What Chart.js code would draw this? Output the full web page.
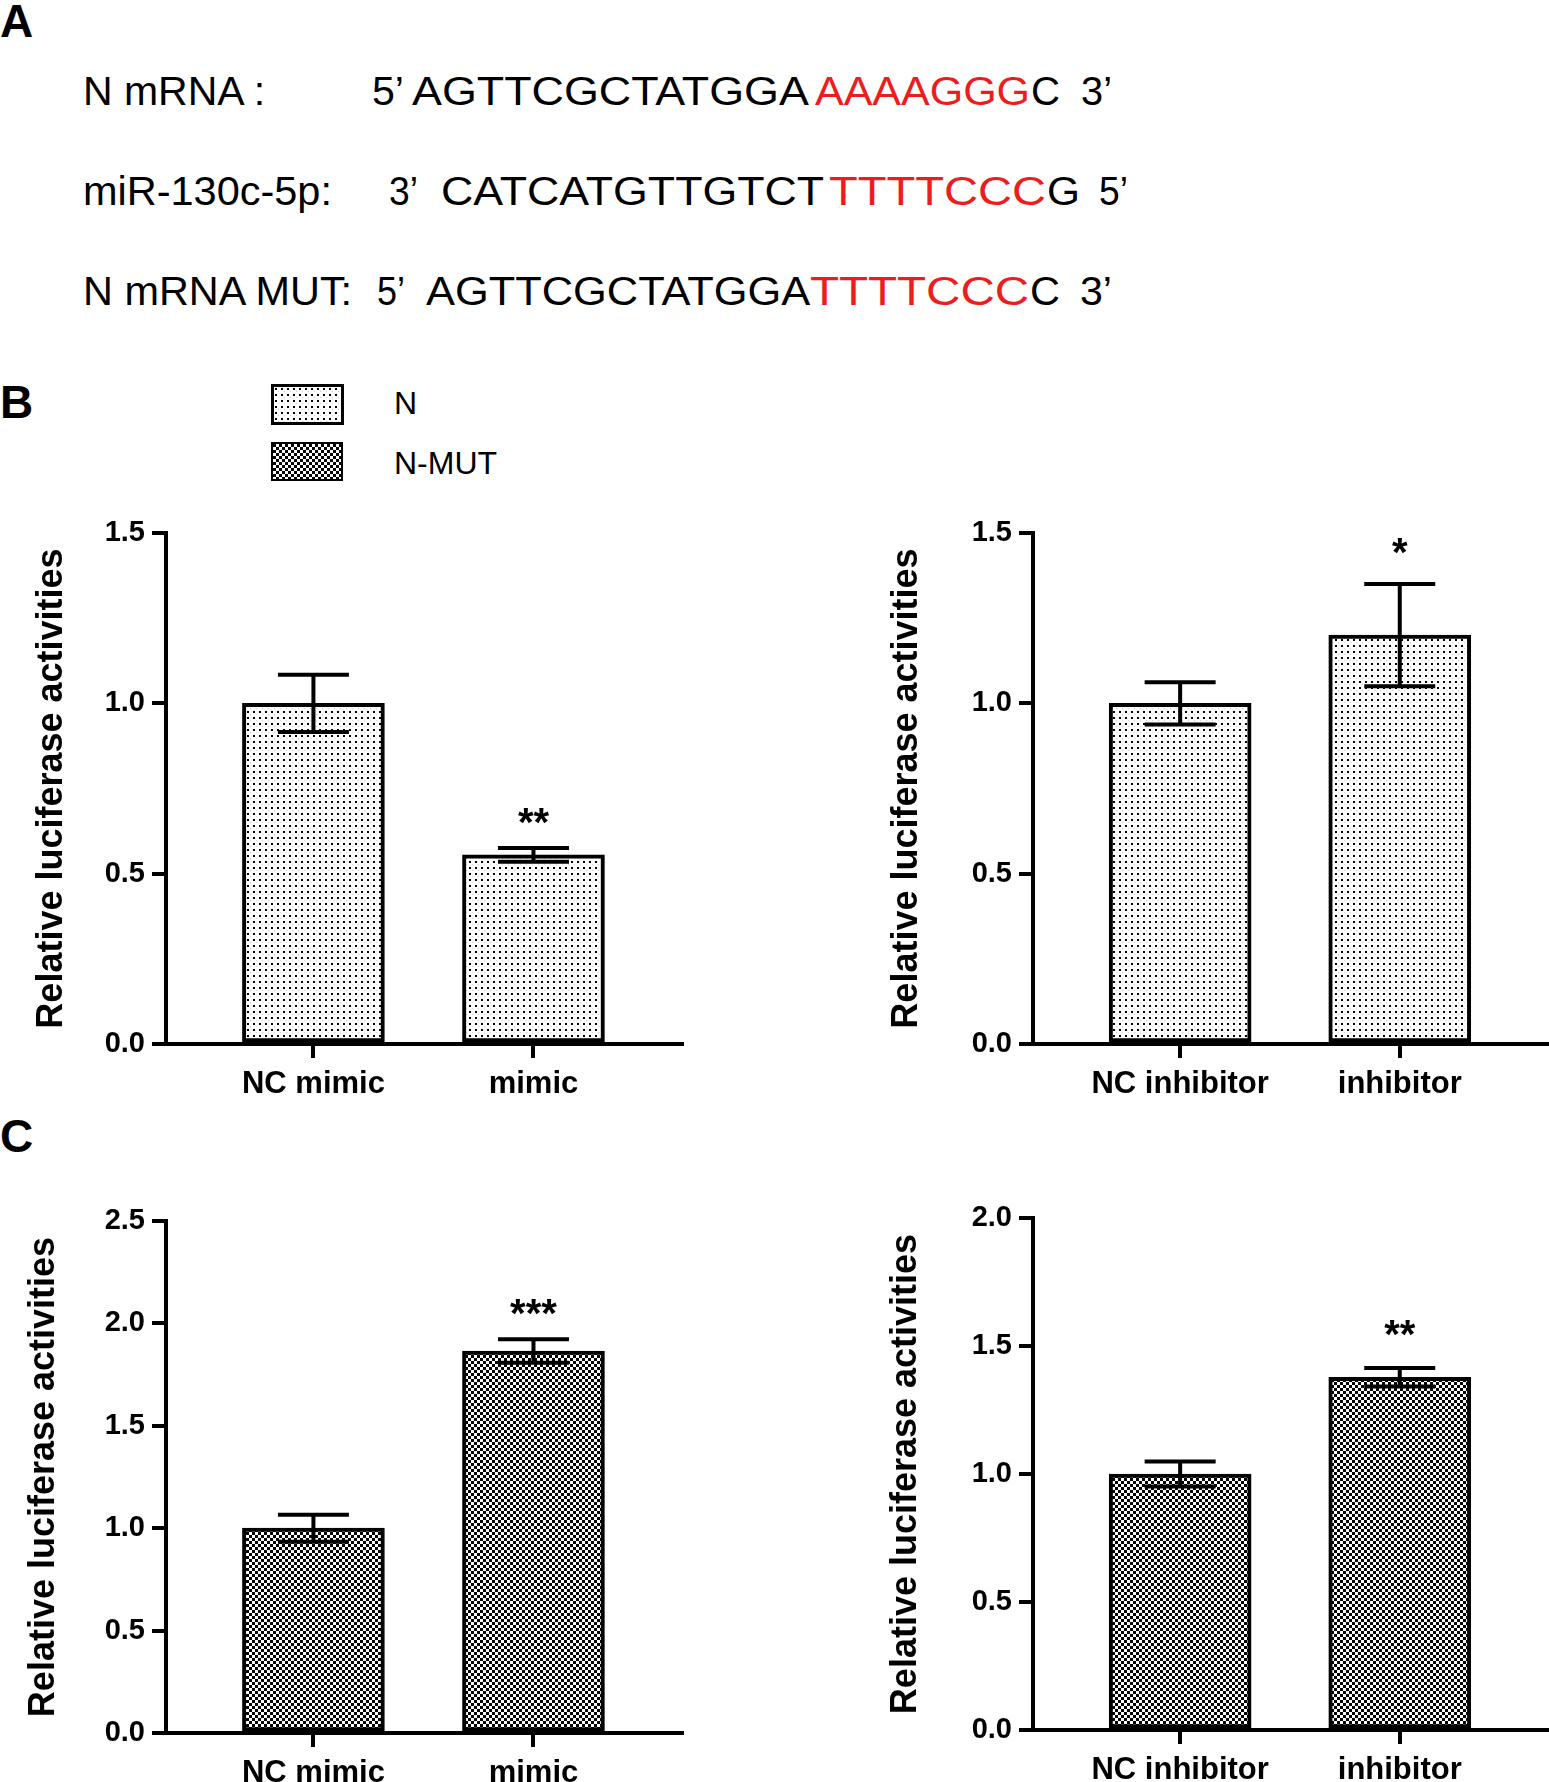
<!DOCTYPE html>
<html>
<head>
<meta charset="utf-8">
<script src="https://cdn.jsdelivr.net/npm/chart.js@4.4.1/dist/chart.umd.min.js"></script>
<style>
html, body { margin: 0; padding: 0; background: #fff; }
#page { position: relative; width: 1549px; height: 1782px; overflow: hidden; background: #fff;
        font-family: "Liberation Sans", Arial, sans-serif; }
.t { position: absolute; white-space: pre; line-height: 1; transform-origin: 0 0; }
.panel { font-weight: bold; }
canvas { position: absolute; }
.box { position: absolute; box-sizing: border-box; border: 3px solid #000; }
</style>
</head>
<body>
<div id="page"></div>
<script>
// ---- data ----
const categoriesMimic = ['NC mimic', 'mimic'];
const categoriesInhibitor = ['NC inhibitor', 'inhibitor'];
const seriesNames = ['N', 'N-MUT'];

const nMimicValues = [1.0, 0.555];
const nMimicErrors = [0.084, 0.02];
const nMimicStars = ['', '**'];

const nInhibitorValues = [1.0, 1.2];
const nInhibitorErrors = [0.062, 0.15];
const nInhibitorStars = ['', '*'];

const mutMimicValues = [1.0, 1.865];
const mutMimicErrors = [0.066, 0.057];
const mutMimicStars = ['', '***'];

const mutInhibitorValues = [1.0, 1.378];
const mutInhibitorErrors = [0.049, 0.036];
const mutInhibitorStars = ['', '**'];

const yTicksN = [0, 0.5, 1.0, 1.5];
const yTicksMutMimic = [0, 0.5, 1.0, 1.5, 2.0, 2.5];
const yTicksMutInhibitor = [0, 0.5, 1.0, 1.5, 2.0];

const yTitle = 'Relative luciferase activities';

// sequence rows of panel A: [text, red?, left, right]
const RED = '#ee1c1c';
const seqRow1 = [['N mRNA :', 0, 83, 265], ['5’', 0, 372, 404], ['AGTTCGCTATGGA', 0, 412, 809],
                 ['AAAAGGG', 1, 815, 1030], ['C', 0, 1031, 1060], ['3’', 0, 1081, 1112]];
const seqRow2 = [['miR-130c-5p:', 0, 83, 332], ['3’', 0, 389, 418], ['CATCATGTTGTCT', 0, 441, 824],
                 ['TTTTCCC', 1, 829, 1046], ['G', 0, 1047, 1080], ['5’', 0, 1099, 1128]];
const seqRow3 = [['N mRNA MUT:', 0, 83, 352], ['5’', 0, 377, 405], ['AGTTCGCTATGGA', 0, 426, 810],
                 ['TTTTCCC', 1, 810, 1029], ['C', 0, 1030, 1060], ['3’', 0, 1080, 1112]];

const page = document.getElementById('page');

function addText(txt, left, baseline, size, cls, color) {
    const s = document.createElement('span');
    s.className = 't ' + (cls || '');
    s.textContent = txt;
    s.style.fontSize = size + 'px';
    s.style.left = left + 'px';
    s.style.top = (baseline - 0.8465 * size) + 'px';
    if (color) s.style.color = color;
    page.appendChild(s);
    return s;
}

function addSeqRow(row, baseline) {
    row.forEach(([txt, red, l, r]) => {
        const s = addText(txt, l, baseline, 40, '', red ? RED : '#000');
        const w = s.getBoundingClientRect().width;
        s.style.transform = 'scaleX(' + ((r - l) / w).toFixed(3) + ')';
    });
}

addText('A', 0, 37, 46, 'panel');
addText('B', 0, 418, 46, 'panel');
addText('C', 0, 1152, 46, 'panel');
addSeqRow(seqRow1, 105);
addSeqRow(seqRow2, 205);
addSeqRow(seqRow3, 305);

// ---- fill patterns ----
function dotTile() {
    const c = document.createElement('canvas');
    c.width = 6; c.height = 6;
    const g = c.getContext('2d');
    g.fillStyle = '#fff'; g.fillRect(0, 0, 6, 6);
    g.fillStyle = '#000'; g.fillRect(1, 1, 2, 2);
    g.fillStyle = '#ccc'; g.fillRect(4, 4, 1, 1);
    return c;
}
function checkTile() {
    const c = document.createElement('canvas');
    c.width = 6; c.height = 6;
    const g = c.getContext('2d');
    g.fillStyle = '#fff'; g.fillRect(0, 0, 6, 6);
    g.fillStyle = '#000'; g.fillRect(0, 0, 3, 3); g.fillRect(3, 3, 3, 3);
    return c;
}
const tiles = [dotTile(), checkTile()];
const patCtx = document.createElement('canvas').getContext('2d');
const patterns = tiles.map(t => patCtx.createPattern(t, 'repeat'));

// legend
[[271, 384, 73, 41, 3, 414], [271, 442, 72, 39, 2, 474]].forEach(([x, y, w, h, bw, base], i) => {
    const b = document.createElement('div');
    b.className = 'box';
    Object.assign(b.style, { left: x + 'px', top: y + 'px', width: w + 'px', height: h + 'px',
        borderWidth: bw + 'px', backgroundImage: 'url(' + tiles[i].toDataURL() + ')' });
    page.appendChild(b);
    addText(seriesNames[i], 394, base, 32);
});

// ---- charts ----
const FONT = '"Liberation Sans", Arial, sans-serif';

const errorBars = {
    id: 'errorBars',
    afterDatasetsDraw(chart, args, opts) {
        const ctx = chart.ctx;
        const y = chart.scales.y;
        const ds = chart.data.datasets[0];
        ctx.save();
        ctx.strokeStyle = '#000';
        ctx.lineWidth = 4;
        chart.getDatasetMeta(0).data.forEach((bar, i) => {
            const v = ds.data[i].y, e = opts.errors[i];
            const hi = y.getPixelForValue(v + e), lo = y.getPixelForValue(v - e);
            const half = bar.width / 4;
            ctx.beginPath();
            ctx.moveTo(bar.x, hi); ctx.lineTo(bar.x, lo);
            ctx.moveTo(bar.x - half, hi); ctx.lineTo(bar.x + half, hi);
            ctx.moveTo(bar.x - half, lo); ctx.lineTo(bar.x + half, lo);
            ctx.stroke();
            if (opts.stars[i]) {
                ctx.fillStyle = '#000';
                ctx.font = 'bold 40px ' + FONT;
                ctx.textAlign = 'center';
                ctx.textBaseline = 'alphabetic';
                ctx.fillText(opts.stars[i], bar.x, hi - opts.starGap);
            }
        });
        ctx.restore();
    }
};

function makeChart(p) {
    const cv = document.createElement('canvas');
    cv.width = p.w; cv.height = p.h;
    cv.style.left = p.left + 'px';
    cv.style.top = p.top + 'px';
    cv.style.width = p.w + 'px';
    cv.style.height = p.h + 'px';
    page.appendChild(cv);

    const ymax = p.yTicks[p.yTicks.length - 1];
    new Chart(cv.getContext('2d'), {
        type: 'bar',
        data: {
            datasets: [{
                label: p.series,
                data: p.labels.map((c, i) => ({ x: i, y: p.values[i] })),
                backgroundColor: p.pattern,
                borderColor: '#000',
                borderWidth: 4,
                borderSkipped: false,
                barThickness: 142
            }]
        },
        options: {
            responsive: false,
            animation: false,
            devicePixelRatio: 1,
            layout: { padding: { top: p.padTop, right: p.padRight, left: 0, bottom: 0 } },
            plugins: {
                legend: { display: false },
                tooltip: { enabled: false },
                errorBars: { errors: p.errors, stars: p.stars, starGap: p.starGap }
            },
            scales: {
                x: {
                    type: 'linear',
                    offset: false,
                    min: -0.67, max: 1.675,
                    afterBuildTicks: s => { s.ticks = p.labels.map((c, i) => ({ value: i })); },
                    afterFit: s => { s.height = p.xHeight; },
                    ticks: {
                        callback: (v) => p.labels[v],
                        color: '#000',
                        padding: 8,
                        font: { family: FONT, size: 31, weight: 'bold' }
                    },
                    grid: { offset: false, drawOnChartArea: false, color: '#000', lineWidth: 4, tickLength: 14 },
                    border: { display: true, color: '#000', width: 4 }
                },
                y: {
                    min: 0, max: ymax,
                    afterBuildTicks: s => { s.ticks = p.yTicks.map(v => ({ value: v })); },
                    afterFit: s => { s.width = p.yWidth; },
                    ticks: {
                        callback: v => v.toFixed(1),
                        color: '#000',
                        padding: 7,
                        font: { family: FONT, size: 29, weight: 'bold' }
                    },
                    grid: { drawOnChartArea: false, color: '#000', lineWidth: 4, tickLength: 14 },
                    border: { display: true, color: '#000', width: 4 },
                    title: {
                        display: true,
                        text: yTitle,
                        color: '#000',
                        padding: { top: p.titlePad, bottom: 0 },
                        font: { family: FONT, size: 36, weight: 'bold' }
                    }
                }
            }
        },
        plugins: [errorBars]
    });
}

makeChart({ left: 0, top: 500, w: 720, h: 620, yWidth: 166, padTop: 33, padRight: 38, xHeight: 76,
    titlePad: 30, starGap: 12, labels: categoriesMimic, values: nMimicValues, errors: nMimicErrors,
    stars: nMimicStars, yTicks: yTicksN, pattern: patterns[0], series: seriesNames[0] });
makeChart({ left: 866, top: 500, w: 683, h: 620, yWidth: 167, padTop: 33, padRight: 1, xHeight: 76,
    titlePad: 19, starGap: 18, labels: categoriesInhibitor, values: nInhibitorValues, errors: nInhibitorErrors,
    stars: nInhibitorStars, yTicks: yTicksN, pattern: patterns[0], series: seriesNames[0] });
makeChart({ left: 0, top: 1190, w: 720, h: 592, yWidth: 166, padTop: 31, padRight: 38, xHeight: 49,
    titlePad: 22, starGap: 12, labels: categoriesMimic, values: mutMimicValues, errors: mutMimicErrors,
    stars: mutMimicStars, yTicks: yTicksMutMimic, pattern: patterns[1], series: seriesNames[1] });
makeChart({ left: 866, top: 1190, w: 683, h: 592, yWidth: 167, padTop: 28, padRight: 1, xHeight: 52,
    titlePad: 18, starGap: 20, labels: categoriesInhibitor, values: mutInhibitorValues, errors: mutInhibitorErrors,
    stars: mutInhibitorStars, yTicks: yTicksMutInhibitor, pattern: patterns[1], series: seriesNames[1] });
</script>
</body>
</html>
